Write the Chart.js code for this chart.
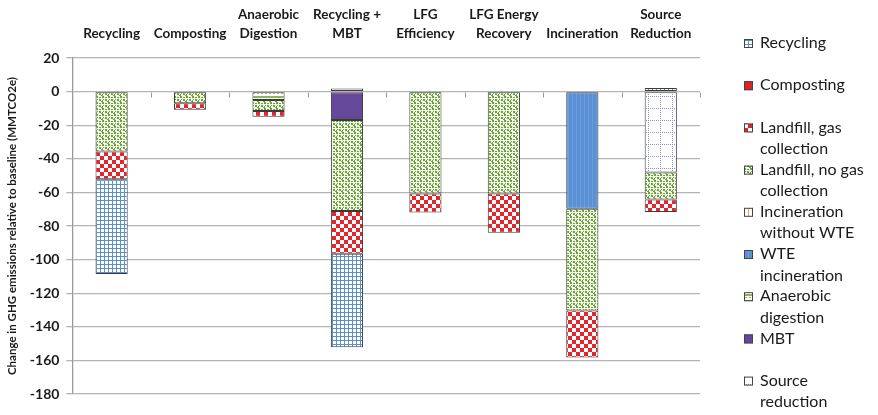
<!DOCTYPE html>
<html>
<head>
<meta charset="utf-8">
<script src="https://cdn.jsdelivr.net/npm/chart.js@4.4.1/dist/chart.umd.min.js"></script>
<style>
  html, body { margin: 0; padding: 0; background: #fff; }
  #wrap { width: 878px; height: 415px; position: relative; }
</style>
</head>
<body>
<div id="wrap"><canvas id="ghgChart"></canvas></div>
<script>
// scenario categories (top axis)
let categories = ['Recycling', 'Composting', ['Anaerobic', 'Digestion'], ['Recycling +', 'MBT'],
    ['LFG', 'Efficiency'], ['LFG Energy', 'Recovery'], 'Incineration', ['Source', 'Reduction']];

// change in GHG emissions per pathway, MMTCO2e (null = not present)
let recycling       = [-56.5, null, null, -55.7, null, null, null, 2.2];
let composting      = [null, null, null, null, null, null, null, null];
let landfillGas     = [-16.5, -3.8, -3.5, -25.5, -11.3, -23.3, -27.9, -7.3];
let landfillNoGas   = [-35.6, -7.0, -6.5, -54.1, -60.7, -60.7, -60.6, -16.1];
let incinNoWTE      = [null, null, null, null, null, null, null, null];
let wteIncineration = [null, null, null, null, null, null, -69.7, null];
let anaerobic       = [null, null, -5.0, null, null, null, null, null];
let mbt             = [null, null, null, -16.9, null, null, null, null];
let sourceReduction = [null, null, null, 1.8, null, null, null, -48.2];

let yMin = -180;
let yMax = 20;
let yStep = 20;

let makePattern = function (w, h, draw) {
    let c = document.createElement('canvas');
    c.width = w;
    c.height = h;
    let g = c.getContext('2d');
    draw(g);
    return document.createElement('canvas').getContext('2d').createPattern(c, 'repeat');
};

let patterns = {
    recycling: makePattern(4, 4, function (g) {
        g.fillStyle = '#ffffff'; g.fillRect(0, 0, 4, 4);
        g.fillStyle = '#5a8fd2'; g.fillRect(0, 0, 4, 1); g.fillRect(0, 0, 1, 4);
    }),
    composting: '#e02222',
    landfillGas: makePattern(8, 8, function (g) {
        g.fillStyle = '#ffffff'; g.fillRect(0, 0, 8, 8);
        g.fillStyle = '#e2262b'; g.fillRect(0, 0, 4, 4); g.fillRect(4, 4, 4, 4);
    }),
    landfillNoGas: makePattern(6, 6, function (g) {
        g.fillStyle = '#f2f8ea'; g.fillRect(0, 0, 6, 6);
        g.fillStyle = '#6e9f3c';
        g.fillRect(0, 0, 2, 2); g.fillRect(3, 1, 2, 1);
        g.fillRect(3, 3, 2, 2); g.fillRect(0, 4, 1, 2);
        g.fillRect(1, 3, 1, 1); g.fillRect(5, 5, 1, 1);
    }),
    incinNoWTE: makePattern(4, 4, function (g) {
        g.fillStyle = '#ffffff'; g.fillRect(0, 0, 4, 4);
        g.fillStyle = '#f0a050'; g.fillRect(0, 0, 1, 4);
    }),
    wteIncineration: makePattern(4, 4, function (g) {
        g.fillStyle = '#5b90d6'; g.fillRect(0, 0, 4, 4);
        g.fillStyle = '#6a9ddd'; g.fillRect(0, 0, 1, 4);
    }),
    anaerobic: makePattern(4, 6, function (g) {
        g.fillStyle = '#ffffff'; g.fillRect(0, 0, 4, 6);
        g.fillStyle = '#8fb35a'; g.fillRect(0, 0, 4, 2);
        g.fillRect(1, 3, 2, 1);
    }),
    mbt: '#65489a',
    sourceReduction: makePattern(12, 12, function (g) {
        g.fillStyle = '#ffffff'; g.fillRect(0, 0, 12, 12);
        g.fillStyle = '#8c8ce0';
        for (let i = 0; i < 12; i += 2) {
            g.fillRect(i, 0, 1, 1);
            g.fillRect(0, i, 1, 1);
        }
    })
};

// stacking order from the zero line outward
let series = [
    { label: 'Source reduction', data: sourceReduction, bg: patterns.sourceReduction },
    { label: 'MBT', data: mbt, bg: patterns.mbt },
    { label: 'Anaerobic digestion', data: anaerobic, bg: patterns.anaerobic },
    { label: 'WTE incineration', data: wteIncineration, bg: patterns.wteIncineration },
    { label: 'Incineration without WTE', data: incinNoWTE, bg: patterns.incinNoWTE },
    { label: 'Landfill, no gas collection', data: landfillNoGas, bg: patterns.landfillNoGas },
    { label: 'Landfill, gas collection', data: landfillGas, bg: patterns.landfillGas },
    { label: 'Composting', data: composting, bg: patterns.composting },
    { label: 'Recycling', data: recycling, bg: patterns.recycling }
];

// legend as drawn in the figure (wrapped lines)
let legendItems = [
    ['Recycling', ['Recycling']],
    ['Composting', ['Composting']],
    ['Landfill, gas collection', ['Landfill, gas', 'collection']],
    ['Landfill, no gas collection', ['Landfill, no gas', 'collection']],
    ['Incineration without WTE', ['Incineration', 'without WTE']],
    ['WTE incineration', ['WTE', 'incineration']],
    ['Anaerobic digestion', ['Anaerobic', 'digestion']],
    ['MBT', ['MBT']],
    ['Source reduction', ['Source', 'reduction']]
];

let sideLegend = {
    id: 'sideLegend',
    afterDraw: function (chart) {
        let ctx = chart.ctx;
        let area = chart.chartArea;
        let x = area.right + 44;
        let y0 = 43;
        let step = 42.2;
        ctx.save();
        ctx.font = '16px Lato';
        ctx.textBaseline = 'middle';
        legendItems.forEach(function (item, i) {
            let ds = chart.data.datasets.find(function (d) { return d.label === item[0]; });
            let y = y0 + i * step;
            ctx.fillStyle = ds.backgroundColor;
            ctx.fillRect(x, y - 4, 9, 9);
            ctx.strokeStyle = '#444';
            ctx.lineWidth = 1;
            ctx.strokeRect(x + 0.5, y - 3.5, 8, 8);
            ctx.fillStyle = '#1a1a1a';
            item[1].forEach(function (line, j) {
                ctx.fillText(line, x + 16, y + j * 21.5);
            });
        });
        ctx.restore();
    }
};

// small tick marks hanging from the zero line between categories
let zeroTicks = {
    id: 'zeroTicks',
    afterDatasetsDraw: function (chart) {
        let ctx = chart.ctx;
        let xs = chart.scales.x;
        let y0 = Math.round(chart.scales.y.getPixelForValue(0)) + 0.5;
        let w = (xs.right - xs.left) / categories.length;
        ctx.save();
        ctx.strokeStyle = '#9a9a9a';
        ctx.lineWidth = 1;
        for (let i = 0; i <= categories.length; i++) {
            let px = Math.round(xs.left + i * w) + 0.5;
            ctx.beginPath();
            ctx.moveTo(px, y0);
            ctx.lineTo(px, y0 + 5);
            ctx.stroke();
        }
        ctx.restore();
    }
};

let ctx = document.getElementById('ghgChart').getContext('2d');

window.ghgChart = new Chart(ctx, {
    type: 'bar',
    data: {
        labels: categories,
        datasets: series.map(function (s) {
            return {
                label: s.label,
                data: s.data,
                backgroundColor: s.bg,
                borderColor: '#3a3a3a',
                borderWidth: 1,
                borderSkipped: false,
                barPercentage: 0.82,
                categoryPercentage: 0.5
            };
        })
    },
    options: {
        responsive: true,
        maintainAspectRatio: false,
        animation: false,
        layout: {
            padding: { left: 4, right: 178, top: 4, bottom: 21 }
        },
        plugins: {
            legend: { display: false },
            tooltip: { enabled: false }
        },
        scales: {
            x: {
                position: 'top',
                stacked: true,
                grid: { display: false, drawTicks: false },
                border: { display: false },
                afterFit: function (scale) { scale.height = 54; },
                ticks: {
                    autoSkip: false,
                    maxRotation: 0,
                    padding: 15,
                    color: '#1a1a1a',
                    font: { family: 'Lato', size: 13.5, weight: 'bold', lineHeight: 1.4 }
                }
            },
            y: {
                stacked: true,
                min: yMin,
                max: yMax,
                ticks: {
                    stepSize: yStep,
                    padding: 7,
                    color: '#1a1a1a',
                    font: { family: 'Lato', size: 14, weight: 'bold' }
                },
                grid: {
                    color: '#b4b4b4',
                    lineWidth: 1.3,
                    tickLength: 6
                },
                border: { color: '#9a9a9a', width: 1.3 },
                title: {
                    display: true,
                    text: 'Change in GHG emissions relative to baseline (MMTCO2e)',
                    color: '#1a1a1a',
                    font: { family: 'Lato', size: 11.5, weight: 'bold' },
                    padding: { top: 1, bottom: 4 }
                }
            }
        }
    },
    plugins: [zeroTicks, sideLegend]
});
</script>
</body>
</html>
